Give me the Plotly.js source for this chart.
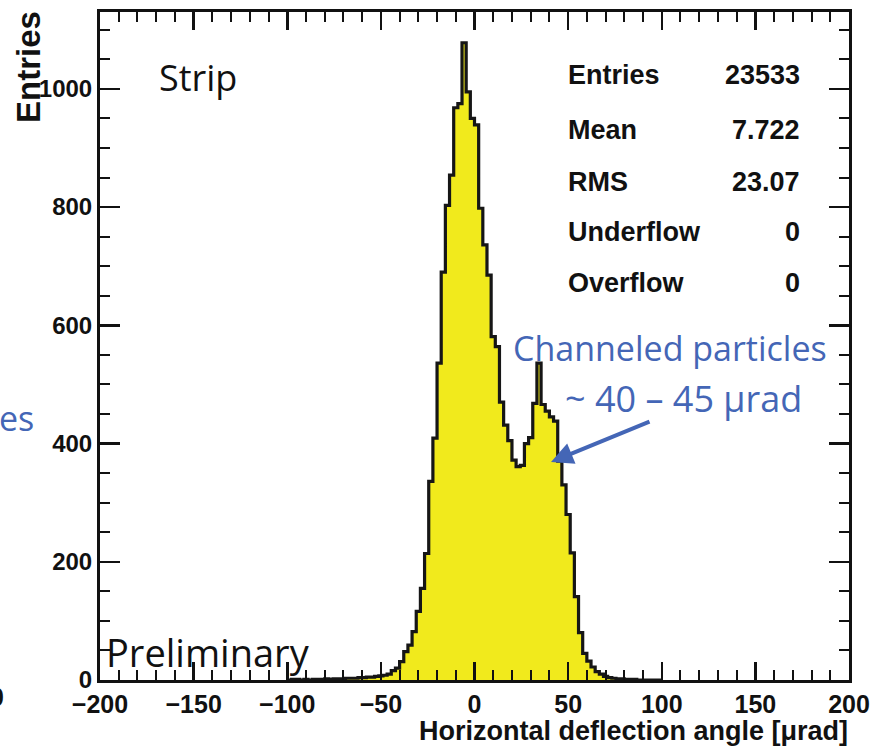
<!DOCTYPE html>
<html>
<head>
<meta charset="utf-8">
<script src="https://cdn.plot.ly/plotly-3.0.1.min.js"></script>
<style>html,body{margin:0;padding:0;background:#fff;}#chart{width:884px;height:753px;}</style>
</head>
<body>
<div id="chart"></div>
<script>
// Histogram definition (ROOT style: 180 bins over [-200, 200] µrad)
const histMin = -200;
const histMax = 200;
const histBins = 180;
// stored range starts at -100 µrad (first stored bin low edge)
const storedLow = -100;
// Counts per bin, starting at storedLow
const counts = [
  0, 1, 1, 0, 1, 0, 1, 1, 1, 2,
  1, 2, 2, 2, 3, 3, 3, 4, 4, 5,
  5, 6, 7, 8, 10, 16, 20, 31, 48, 59,
  82, 116, 155, 214, 336, 409, 536, 690, 803, 854,
  968, 975, 1078, 995, 950, 939, 798, 736, 685, 581,
  564, 470, 431, 405, 372, 361, 363, 400, 410, 468,
  536, 466, 455, 445, 438, 370, 330, 280, 215, 141,
  80, 45, 32, 22, 14, 10, 6, 4, 3, 2,
  2, 1, 1, 1, 0, 0, 0, 0, 0, 0
];

// Axis tick values
const xTickVals = [-200, -150, -100, -50, 0, 50, 100, 150, 200];
const yTickVals = [0, 200, 400, 600, 800, 1000];

// Statistics box
const statNames = ["Entries", "Mean", "RMS", "Underflow", "Overflow"];
const statValues = ["23533", "7.722", "23.07", "0", "0"];

// Labels
const xTitle = "Horizontal deflection angle [\u03bcrad]";
const yTitle = "Entries";
const blue = "#4466B6";

const binWidth = (histMax - histMin) / histBins;
const xs = [storedLow];
const ys = [0];
counts.forEach((c, i) => { xs.push(storedLow + i * binWidth); ys.push(c); });
xs.push(storedLow + counts.length * binWidth); ys.push(counts[counts.length - 1]);

const trace = {
  type: 'scatter', mode: 'lines', x: xs, y: ys,
  line: {shape: 'hv', color: '#161616', width: 3.2},
  fill: 'tozeroy', fillcolor: '#F1EA1C',
  hoverinfo: 'skip', showlegend: false
};

const FB = "Liberation Sans, Arial, Helvetica, sans-serif";
const FN = "Open Sans, Noto Sans, sans-serif";

// plot area in px: x 100..849, y 12..680
const L = 100, R = 849, T = 12, B = 680;
const px2x = p => (p - L) / (R - L);
const py2y = p => (B - p) / (B - T);

const rowsY = [75, 130, 182, 232, 283];
const annotations = [];
statNames.forEach((n, i) => {
  annotations.push({xref: 'paper', yref: 'paper', x: px2x(566), y: py2y(rowsY[i]), xanchor: 'left', yanchor: 'middle',
    text: n, showarrow: false, font: {family: FB, size: 27, weight: 'bold', color: '#111'}});
  annotations.push({xref: 'paper', yref: 'paper', x: px2x(802), y: py2y(rowsY[i]), xanchor: 'right', yanchor: 'middle',
    text: statValues[i], showarrow: false, font: {family: FB, size: 27, weight: 'bold', color: '#111'}});
});
annotations.push(
  {xref: 'paper', yref: 'paper', x: px2x(157), y: py2y(78), xanchor: 'left', yanchor: 'middle',
   text: 'Strip', showarrow: false, font: {family: FN, size: 36, color: '#111'}},
  {xref: 'paper', yref: 'paper', x: px2x(104), y: py2y(652), xanchor: 'left', yanchor: 'middle',
   text: 'Preliminary', showarrow: false, font: {family: FN, size: 38, color: '#111'}},
  {xref: 'paper', yref: 'paper', x: px2x(670), y: py2y(348), xanchor: 'center', yanchor: 'middle',
   text: 'Channeled particles', showarrow: false, font: {family: FN, size: 34, color: blue}},
  {xref: 'paper', yref: 'paper', x: px2x(683), y: py2y(398), xanchor: 'center', yanchor: 'middle',
   text: '~\u00a040\u00a0\u2013\u00a045\u00a0\u03bcrad', showarrow: false, font: {family: FN, size: 36, color: blue}},
  {xref: 'paper', yref: 'paper', x: px2x(-3), y: py2y(418), xanchor: 'left', yanchor: 'middle',
   text: 'es', showarrow: false, font: {family: FN, size: 34, color: blue}},
  {xref: 'paper', yref: 'paper', x: px2x(6), y: py2y(697), xanchor: 'right', yanchor: 'middle',
   text: '0', showarrow: false, font: {family: FB, size: 25, weight: 'bold', color: '#111'}},
  {xref: 'paper', yref: 'paper', x: px2x(551), y: py2y(462), text: '', showarrow: true,
   ax: 100, ay: -41, arrowhead: 2, arrowsize: 1.1, arrowwidth: 4, arrowcolor: blue},
  {xref: 'paper', yref: 'paper', x: px2x(850), y: py2y(731), xanchor: 'right', yanchor: 'middle',
   text: xTitle, showarrow: false, font: {family: FB, size: 27, weight: 'bold', color: '#111'}},
  {xref: 'paper', yref: 'paper', x: px2x(28), y: py2y(9), xanchor: 'center', yanchor: 'top', textangle: -90,
   text: yTitle, showarrow: false, font: {family: FB, size: 33, weight: 'bold', color: '#111'}}
);

const layout = {
  width: 884, height: 753,
  margin: {l: L, r: 884 - R, t: T, b: 753 - B, pad: 0},
  paper_bgcolor: '#fff', plot_bgcolor: '#fff',
  showlegend: false,
  xaxis: {
    range: [histMin, histMax], tickmode: 'array', tickvals: xTickVals,
    ticks: 'inside', ticklen: 18, tickwidth: 2.5, tickcolor: '#111',
    showline: true, linewidth: 3, linecolor: '#111', mirror: 'allticks',
    showgrid: false, zeroline: false,
    minor: {dtick: 10, tick0: 0, ticks: 'inside', ticklen: 10, tickwidth: 2, tickcolor: '#111', showgrid: false},
    tickfont: {family: FB, size: 25, weight: 'bold', color: '#111'}
  },
  yaxis: {
    range: [0, 1130], tickmode: 'array', tickvals: yTickVals,
    ticks: 'inside', ticklen: 20, tickwidth: 2.5, tickcolor: '#111',
    showline: true, linewidth: 3, linecolor: '#111', mirror: 'allticks',
    showgrid: false, zeroline: false,
    minor: {dtick: 50, tick0: 0, ticks: 'inside', ticklen: 10, tickwidth: 2, tickcolor: '#111', showgrid: false},
    tickfont: {family: FB, size: 24, weight: 'bold', color: '#111'}
  },
  annotations: annotations
};

Plotly.newPlot('chart', [trace], layout, {staticPlot: true, displayModeBar: false});
</script>
</body>
</html>
